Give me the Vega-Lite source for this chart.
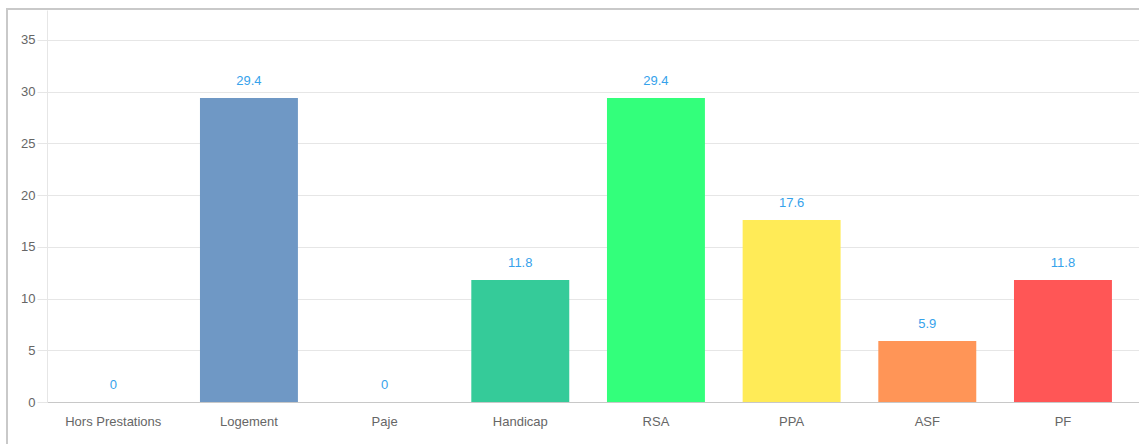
{
  "$schema": "https://vega.github.io/schema/vega-lite/v6.json",
  "autosize": {"type": "none"},
  "padding": {"left": 7, "top": 9, "right": 0, "bottom": 0},
  "width": 1145,
  "height": 445,
  "background": "white",
  "config": {
    "font": "Liberation Sans",
    "view": {"stroke": "#c9c9c9", "strokeWidth": 2}
  },
  "data": {
    "values": [
      {"prestation": "Hors Prestations", "pct": 0, "couleur": "#ff6384"},
      {"prestation": "Logement", "pct": 29.4, "couleur": "#6f98c5"},
      {"prestation": "Paje", "pct": 0, "couleur": "#9966ff"},
      {"prestation": "Handicap", "pct": 11.8, "couleur": "#35cb99"},
      {"prestation": "RSA", "pct": 29.4, "couleur": "#33ff7b"},
      {"prestation": "PPA", "pct": 17.6, "couleur": "#ffeb57"},
      {"prestation": "ASF", "pct": 5.9, "couleur": "#ff9557"},
      {"prestation": "PF", "pct": 11.8, "couleur": "#ff5656"}
    ]
  },
  "encoding": {
    "x": {
      "field": "prestation",
      "type": "nominal",
      "sort": null,
      "scale": {"range": [40, 1132], "paddingInner": 0.278, "paddingOuter": 0.1635, "align": 0.39},
      "axis": {
        "orient": "bottom",
        "offset": -52,
        "title": null,
        "labelAngle": 0,
        "labelPadding": 13,
        "labelFontSize": 13,
        "labelColor": "#666666",
        "ticks": false,
        "grid": false,
        "domainColor": "#c8c8c8",
        "domainWidth": 1
      }
    },
    "y": {
      "field": "pct",
      "type": "quantitative",
      "scale": {"domain": [0, 37.9], "nice": false, "range": [393, 1]},
      "axis": {
        "orient": "left",
        "offset": -40,
        "title": null,
        "values": [0, 5, 10, 15, 20, 25, 30, 35],
        "labelFontSize": 13,
        "labelColor": "#666666",
        "labelPadding": 2,
        "tickSize": 10,
        "tickColor": "#e6e6e6",
        "grid": true,
        "gridColor": "#e6e6e6",
        "domainColor": "#e6e6e6"
      }
    }
  },
  "layer": [
    {
      "mark": {"type": "bar"},
      "encoding": {
        "color": {"field": "couleur", "type": "nominal", "scale": null, "legend": null}
      }
    },
    {
      "mark": {"type": "text", "baseline": "alphabetic", "dy": -13, "fontSize": 13, "color": "#36a2eb"},
      "encoding": {
        "text": {"field": "pct", "type": "quantitative"}
      }
    }
  ]
}
